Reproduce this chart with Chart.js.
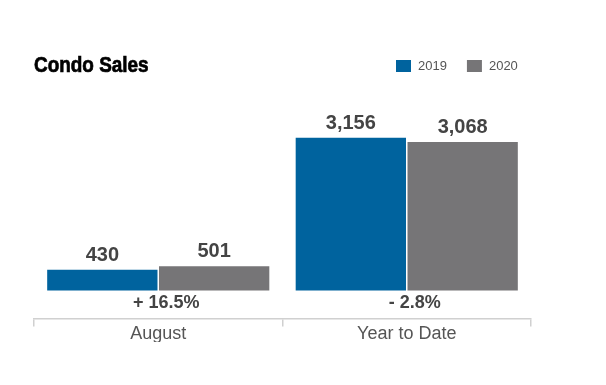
<!DOCTYPE html>
<html>
<head>
<meta charset="utf-8">
<script src="https://cdn.jsdelivr.net/npm/chart.js@4/dist/chart.umd.min.js"></script>
<style>
html,body{margin:0;padding:0;background:#fff;}
#wrap{width:606px;height:385px;position:relative;}
</style>
</head>
<body>
<div id="wrap"><canvas id="c" width="606" height="385"></canvas></div>
<script>
const titleText = 'Condo Sales';
const categories = ['August', 'Year to Date'];
const seriesLabels = ['2019', '2020'];
const sales2019 = [430, 3156];
const sales2020 = [501, 3068];
const changeLabels = ['+ 16.5%', '- 2.8%'];
const colors = ['#00639e', '#767577'];

const SANS = '"Liberation Sans", Arial, Helvetica, sans-serif';

const overlay = {
  id: 'overlay',
  afterDatasetsDraw(chart) {
    const ctx = chart.ctx;
    ctx.save();
    // Title (condensed bold look)
    ctx.save();
    ctx.fillStyle = '#000';
    ctx.strokeStyle = '#000';
    ctx.lineWidth = 0.7;
    ctx.font = 'bold 22px ' + SANS;
    ctx.textBaseline = 'alphabetic';
    ctx.textAlign = 'left';
    ctx.translate(34, 72);
    ctx.scale(0.86, 1);
    ctx.fillText(titleText, 0, 0);
    ctx.strokeText(titleText, 0, 0);
    ctx.restore();
    // Legend
    ctx.font = '13px ' + SANS;
    ctx.textAlign = 'left';
    let lx = 396;
    chart.data.datasets.forEach((ds, i) => {
      ctx.fillStyle = ds.backgroundColor;
      ctx.fillRect(lx, 60, 15, 12);
      ctx.fillStyle = '#555';
      ctx.textBaseline = 'middle';
      ctx.fillText(ds.label, lx + 22, 66.5);
      lx += 22 + ctx.measureText(ds.label).width + 20;
    });
    // Value labels
    ctx.font = 'bold 20px ' + SANS;
    ctx.fillStyle = '#444';
    ctx.textAlign = 'center';
    ctx.textBaseline = 'alphabetic';
    chart.data.datasets.forEach((ds, i) => {
      const meta = chart.getDatasetMeta(i);
      meta.data.forEach((bar, j) => {
        ctx.fillText(ds.data[j].toLocaleString('en-US'), bar.x, bar.y - 9);
      });
    });
    // Change labels
    const xs = chart.scales.x, ys = chart.scales.y;
    ctx.font = 'bold 18px ' + SANS;
    ctx.textBaseline = 'middle';
    changeLabels.forEach((t, j) => {
      ctx.fillText(t, xs.getPixelForValue(j) + 8, ys.getPixelForValue(0) + 13);
    });
    ctx.restore();
  }
};

new Chart(document.getElementById('c'), {
  type: 'bar',
  data: {
    labels: categories,
    datasets: [
      { label: seriesLabels[0], data: sales2019, backgroundColor: colors[0] },
      { label: seriesLabels[1], data: sales2020, backgroundColor: colors[1] }
    ]
  },
  options: {
    responsive: false,
    animation: false,
    devicePixelRatio: 1,
    layout: { padding: { left: 34, right: 75, top: 100, bottom: 43 } },
    datasets: { bar: { categoryPercentage: 0.9, barPercentage: 0.9865, borderWidth: 0 } },
    plugins: { legend: { display: false }, tooltip: { enabled: false }, title: { display: false } },
    scales: {
      x: {
        offset: true,
        grid: { offset: true, drawOnChartArea: false, drawTicks: true, tickLength: 8, color: '#d0d0d0', lineWidth: 1.5 },
        border: { display: true, color: '#d0d0d0', width: 1.5 },
        ticks: { color: '#555', padding: -3, font: { size: 18, family: SANS } }
      },
      y: {
        display: false,
        min: -578,
        max: 3939
      }
    }
  },
  plugins: [overlay]
});
</script>
</body>
</html>
